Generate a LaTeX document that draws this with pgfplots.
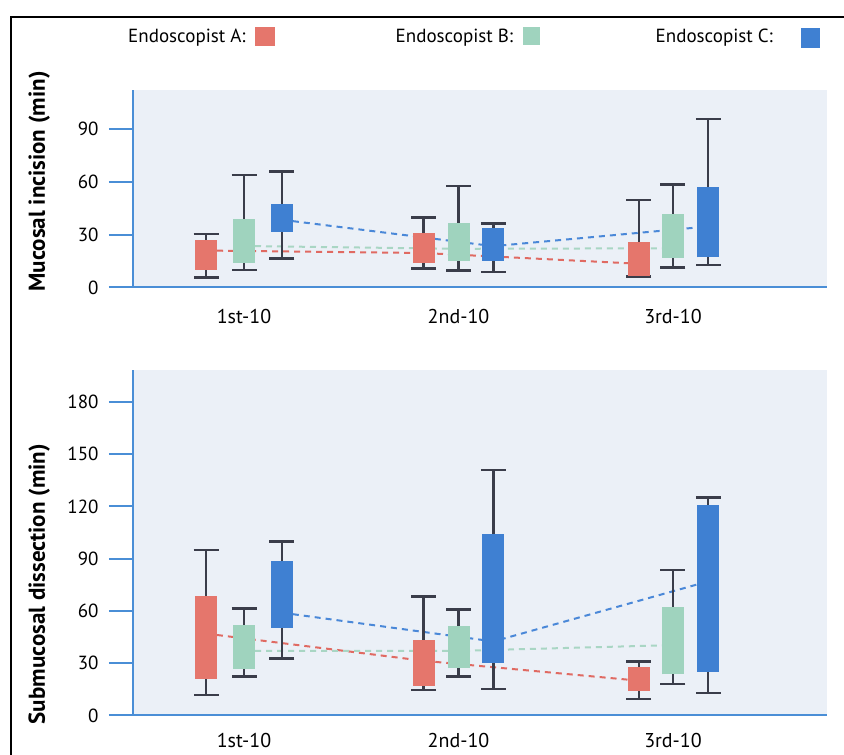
\documentclass[border=0pt]{standalone}
\usepackage{fontspec}
\setmainfont{PT Sans}
\usepackage{pgfplots}
\usepackage{pgfplotstable}
\pgfplotsset{compat=1.18}
\definecolor{redc}{HTML}{E5766C}
\definecolor{greenc}{HTML}{9FD3BE}
\definecolor{bluec}{HTML}{3F80D2}
\definecolor{redd}{HTML}{E06A62}
\definecolor{greend}{HTML}{A9D6C4}
\definecolor{blued}{HTML}{4A88D8}
\definecolor{whisk}{HTML}{3A3D4A}
\definecolor{axisblue}{HTML}{4A8ED6}
\definecolor{bgc}{HTML}{EBF0F7}

% x = position, lw = lower whisker, q1/q3 = box, uw = upper whisker
\pgfplotstableread{
x lw q1 q3 uw
0.823 5.8 10 27 30.4
1.837 10.9 13.8 30.8 39.7
2.84 6.1 6.5 26 49.7
}\topA
\pgfplotstableread{
x lw q1 q3 uw
1.0 10 14.1 38.8 64
2.0 9.6 15.3 36.9 57.7
3.0 11.4 16.9 41.6 58.7
}\topB
\pgfplotstableread{
x lw q1 q3 uw
1.177 16.4 31.7 47.3 65.9
2.163 8.8 15.1 34 36.5
3.165 12.7 17.1 57.3 95.7
}\topC
\pgfplotstableread{
x lw q1 q3 uw
0.823 11.8 21 68.6 94.9
1.837 14.7 17.1 43.4 68.4
2.84 9.5 14.3 27.8 30.9
}\botA
\pgfplotstableread{
x lw q1 q3 uw
1.0 22.5 26.7 52 61.3
2.0 22.3 27.2 51.4 61
3.0 18.1 23.6 62.3 83.6
}\botB
\pgfplotstableread{
x lw q1 q3 uw
1.177 32.8 50.5 88.4 99.8
2.163 15.2 30.1 104.4 141
3.165 12.8 25.1 120.6 125
}\botC

\pgfplotsset{
  ep/.style={
    scale only axis, width=694pt,
    xmin=0.4825, xmax=3.718, ymin=0,
    axis x line*=bottom, axis y line*=left,
    axis line style={draw=axisblue, line width=2pt},
    axis background/.style={fill=bgc},
    tick align=outside, major tick length=24pt,
    ytick style={draw=axisblue, line width=2pt},
    xtick={1,2,3}, xticklabels={1st-10,2nd-10,3rd-10},
    xtick style={draw=none},
    xticklabel style={font=\fontsize{20}{22}\selectfont},
    yticklabel style={xshift=-7pt, font=\fontsize{19}{21}\selectfont},
    /pgf/number format/assume math mode=true,
    ylabel style={font=\bfseries\fontsize{23}{26}\selectfont, anchor=center},
  },
  dl/.style={line width=2pt, dash pattern=on 6pt off 5pt},
}
% whiskers with caps
\newcommand{\whiskers}[1]{%
  \addplot[draw=none, mark=none, error bars/.cd, y dir=both, y explicit,
    error bar style={draw=whisk, line width=2.2pt, solid},
    error mark=|, error mark options={draw=whisk, line width=2.6pt, mark size=12.5pt, solid}]
    table[x=x, y=q1, y error plus expr=\thisrow{uw}-\thisrow{q1}, y error minus expr=\thisrow{q1}-\thisrow{lw}] {#1};}
% boxes as thick bars from q1 to q3
\newcommand{\boxes}[2]{%
  \addplot[draw=none, mark=none, error bars/.cd, y dir=plus, y explicit,
    error bar style={draw=#2, line width=22pt, solid, line cap=butt},
    error mark=none]
    table[x=x, y=q1, y error plus expr=\thisrow{q3}-\thisrow{q1}] {#1};}

\begin{document}
\begin{tikzpicture}
\path[use as bounding box] (0pt,0pt) rectangle (844pt,755pt);
\draw[line width=1.5pt, black] (11pt,-2pt) -- (11pt,738pt) -- (846pt,738pt);
% legend
\node[anchor=base west, inner sep=0, font=\fontsize{19}{22}\selectfont] at (128pt,712pt) {Endoscopist A:};
\fill[redc] (255pt,709pt) rectangle (275pt,728pt);
\node[anchor=base west, inner sep=0, font=\fontsize{19}{22}\selectfont] at (395.5pt,712pt) {Endoscopist B:};
\fill[greenc] (523pt,710pt) rectangle (540pt,728pt);
\node[anchor=base west, inner sep=0, font=\fontsize{19}{22}\selectfont] at (655.5pt,712pt) {Endoscopist C:};
\fill[bluec] (801pt,707pt) rectangle (820pt,727pt);

% top panel
\begin{axis}[ep, at={(133pt,467.5pt)}, anchor=south west, height=197.5pt,
  ymax=112.3, ytick={0,30,60,90},
  xticklabel style={yshift=6pt},
  ylabel={Mucosal incision (min)},
  ylabel style={at={(axis description cs:-0.135,0.537)}}]
\addplot[redd, dl] coordinates {(0.823,21) (1.837,19.6) (2.84,13.5)};
\addplot[greend, dl] coordinates {(1.0,23.6) (2.0,22) (3.0,22.3)};
\addplot[blued, dl] coordinates {(1.177,38.5) (2.163,23.5) (3.165,34.7)};
\whiskers{\topA}\boxes{\topA}{redc}
\whiskers{\topB}\boxes{\topB}{greenc}
\whiskers{\topC}\boxes{\topC}{bluec}
\end{axis}

% bottom panel
\begin{axis}[ep, at={(133pt,39.5pt)}, anchor=south west, height=345.5pt,
  ymax=198.3, ytick={0,30,60,90,120,150,180},
  xticklabel style={yshift=10pt},
  ylabel={Submucosal dissection (min)},
  ylabel style={at={(axis description cs:-0.135,0.38)}}]
\addplot[redd, dl] coordinates {(0.823,47) (1.837,31.4) (2.84,20)};
\addplot[greend, dl] coordinates {(1.0,37.1) (2.0,37.1) (3.0,40.4)};
\addplot[blued, dl] coordinates {(1.177,59) (2.163,42.5) (3.165,77)};
\whiskers{\botA}\boxes{\botA}{redc}
\whiskers{\botB}\boxes{\botB}{greenc}
\whiskers{\botC}\boxes{\botC}{bluec}
\end{axis}
\end{tikzpicture}
\end{document}
